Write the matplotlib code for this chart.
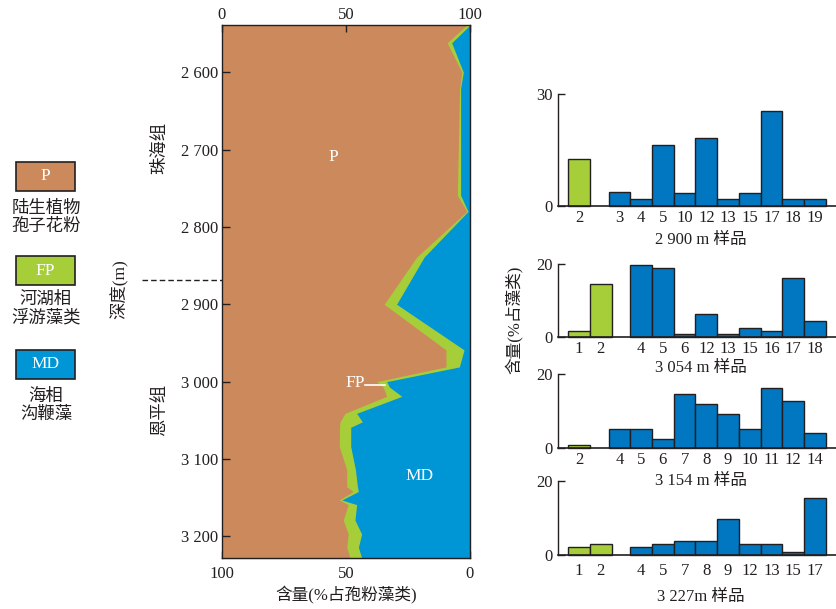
import matplotlib
matplotlib.use('Agg')
import matplotlib.pyplot as plt
from matplotlib.patches import Rectangle
from matplotlib.lines import Line2D
import numpy as np

plt.rcParams['font.family'] = ['Liberation Serif', 'Noto Sans CJK SC']
plt.rcParams['axes.unicode_minus'] = False

W, H = 836, 609
BROWN = '#CC8A5C'
GREEN = '#A6CE39'
BLUE = '#0096D6'
BAR_BLUE = '#0077C0'
INK = '#231F20'

# ---- main profile data (depth in m, percent of sporomorphs+algae) ----
depth = [2539, 2562, 2600, 2621, 2759, 2780, 2839, 2900, 2959, 2981, 3000, 3007,
         3019, 3041, 3052, 3059, 3084, 3114, 3136, 3142, 3153, 3159, 3179, 3197,
         3214, 3228]
p_pct = [98.7, 90.8, 96.7, 95.8, 94.9, 98.7, 78.5, 65.4, 90.3, 90.3, 62.4, 65.0,
         66.4, 49.6, 47.6, 47.4, 47.3, 50.3, 50.3, 52.9, 47.3, 50.9, 48.9, 50.9,
         50.3, 51.6]
fp_pct = [1.3, 1.8, 0.6, 0.4, 1.3, 0.5, 3.0, 5.0, 7.3, 5.4, 4.0, 2.5,
          6.1, 4.7, 9.0, 4.5, 4.6, 3.5, 4.3, 2.1, 1.0, 3.4, 4.7, 5.4,
          4.7, 4.7]
depth_ticks = [2600, 2700, 2800, 2900, 3000, 3100, 3200]
depth_labels = ['2 600', '2 700', '2 800', '2 900', '3 000', '3 100', '3 200']

# ---- histogram data (percent of algae) ----
s2900_fp_types = ['2']
s2900_fp = [12.5]
s2900_md_types = ['3', '4', '5', '10', '12', '13', '15', '17', '18', '19']
s2900_md = [3.6, 1.8, 16.2, 3.4, 18.1, 1.8, 3.5, 25.3, 1.7, 1.7]

s3054_fp_types = ['1', '2']
s3054_fp = [1.8, 14.5]
s3054_md_types = ['4', '5', '6', '12', '13', '15', '16', '17', '18']
s3054_md = [19.7, 19.0, 0.9, 6.4, 0.8, 2.6, 1.8, 16.2, 4.5]

s3154_fp_types = ['2']
s3154_fp = [0.8]
s3154_md_types = ['4', '5', '6', '7', '8', '9', '10', '11', '12', '14']
s3154_md = [5.2, 5.2, 2.6, 14.6, 12.1, 9.4, 5.1, 16.4, 12.9, 4.1]

s3227_fp_types = ['1', '2']
s3227_fp = [2.1, 3.0]
s3227_md_types = ['4', '5', '7', '8', '9', '12', '13', '15', '17']
s3227_md = [2.1, 3.0, 3.9, 3.9, 9.7, 3.0, 3.0, 0.9, 15.4]

sample_titles = ['2 900 m 样品', '3 054 m 样品', '3 154 m 样品', '3 227m 样品']
sample_ymax = [30, 20, 20, 20]

fig = plt.figure(figsize=(W / 100, H / 100), dpi=100)


def fax(x0, y0, x1, y1):
    return fig.add_axes([x0 / W, 1 - y1 / H, (x1 - x0) / W, (y1 - y0) / H])


def ftext(x, y, s, **kw):
    kw.setdefault('color', INK)
    kw.setdefault('ha', 'center')
    kw.setdefault('va', 'center')
    return fig.text(x / W, 1 - y / H, s, **kw)


# ---- main chart ----
ax = fax(222, 25, 470, 558)
d = np.array(depth, float)
p = np.array(p_pct, float)
cum = p + np.array(fp_pct, float)
ax.fill_betweenx(d, 0, 100, color=BROWN, lw=0, zorder=1)
ax.fill_betweenx(d, p, 100, color=GREEN, lw=0, zorder=1.1)
ax.fill_betweenx(d, cum, 100, color=BLUE, lw=0, zorder=1.2)
ax.set_xlim(0, 100)
ax.set_ylim(3228, 2539)
for sp in ax.spines.values():
    sp.set_color(INK)
    sp.set_linewidth(1.0)
ax.set_yticks(depth_ticks)
ax.set_yticklabels(depth_labels)
ax.tick_params(axis='y', direction='in', length=5.5, width=1, pad=3,
               labelsize=12, colors=INK)
ax.set_xticks([0, 50, 100])
ax.set_xticklabels(['0', '50', '100'])
ax.tick_params(axis='x', direction='in', length=5, width=1, top=True, bottom=False,
               labeltop=True, labelbottom=False, pad=1.5, labelsize=12, colors=INK)
sec = ax.secondary_xaxis('bottom', functions=(lambda x: 100 - x, lambda x: 100 - x))
sec.set_xticks([100, 50, 0])
sec.set_xticklabels(['100', '50', '0'])
sec.tick_params(direction='in', length=5, width=1, pad=6, labelsize=12, colors=INK)
sec.spines['bottom'].set_color(INK)
sec.set_xlabel('含量(%占孢粉藻类)', fontsize=12, color=INK, labelpad=3)

ax.text(44.8, 2709, 'P', color='white', fontsize=12.5, ha='center', va='center', zorder=5)
ax.text(79.6, 3122, 'MD', color='white', fontsize=12.5, ha='center', va='center', zorder=5)
ax.text(49.6, 3002, 'FP', color='white', fontsize=12.5, ha='left', va='center', zorder=5)
ax.plot([57.7, 65.7], [3005, 3005], color='white', lw=1.2, zorder=5)

# ---- left annotations ----
ftext(120, 289, '深度(m)', rotation=90, fontsize=12.5)
ftext(160, 148, '珠海组', rotation=90, fontsize=12.5)
ftext(160, 410, '恩平组', rotation=90, fontsize=12.5)
fig.add_artist(Line2D([142 / W, 222 / W], [1 - 280 / H, 1 - 280 / H],
                      transform=fig.transFigure, color=INK, lw=1,
                      dashes=(4, 2.2)))

legend_items = [('P', BROWN, 162, '陆生植物\n孢子花粉', 217.5),
                ('FP', GREEN, 256, '河湖相\n浮游藻类', 309),
                ('MD', BLUE, 350, '海相\n沟鞭藻', 406)]
for code, col, ytop, lab, ylab in legend_items:
    fig.add_artist(Rectangle((16 / W, 1 - (ytop + 29) / H), 59 / W, 29 / H,
                             transform=fig.transFigure, facecolor=col,
                             edgecolor=INK, lw=1.2))
    ftext(45.5, ytop + 14.5, code, color='white', fontsize=12.5)
    ftext(46, ylab, lab, fontsize=12.5, linespacing=1.15)

# ---- histograms ----
panels = [
    (s2900_fp_types, s2900_fp, s2900_md_types, s2900_md, 94, 205.7, 6),
    (s3054_fp_types, s3054_fp, s3054_md_types, s3054_md, 264, 337.3, 5.5),
    (s3154_fp_types, s3154_fp, s3154_md_types, s3154_md, 374.3, 448.3, 5.5),
    (s3227_fp_types, s3227_fp, s3227_md_types, s3227_md, 481, 555, 9),
]
title_y = [240, 368, 481, 597]
for i, (ft, fv, mt, mv, ytop, ybase, pad) in enumerate(panels):
    hax = fax(558, ytop, 836, ybase)
    ng = len(fv)
    gpos = np.arange(ng, dtype=float)
    bpos = ng + 0.86 + np.arange(len(mv), dtype=float)
    hax.bar(gpos, fv, width=1, align='edge', color=GREEN, edgecolor=INK, lw=1.0,
            zorder=2, clip_on=False)
    hax.bar(bpos, mv, width=1, align='edge', color=BAR_BLUE, edgecolor=INK, lw=1.0,
            zorder=2, clip_on=False)
    hax.set_xlim(-0.475, 12.335)
    ymax = sample_ymax[i]
    hax.set_ylim(0, ymax)
    hax.spines['top'].set_visible(False)
    hax.spines['right'].set_visible(False)
    hax.spines['left'].set_color(INK)
    hax.spines['bottom'].set_color(INK)
    hax.spines['left'].set_linewidth(1.0)
    hax.spines['bottom'].set_linewidth(1.2)
    hax.spines['bottom'].set_zorder(3)
    hax.set_facecolor('none')
    hax.set_yticks([0, ymax])
    hax.set_yticklabels(['0', str(ymax)])
    hax.tick_params(axis='y', direction='in', length=5, width=1, pad=4,
                    labelsize=12, colors=INK)
    hax.set_xticks(np.concatenate([gpos, bpos]) + 0.5)
    hax.set_xticklabels(list(ft) + list(mt))
    hax.tick_params(axis='x', length=0, pad=pad - 3, labelsize=12, colors=INK)
    ftext(701, title_y[i], sample_titles[i], fontsize=12)

ftext(515, 320, '含量(%占藻类)', rotation=90, fontsize=12)

fig.savefig('out.png', dpi=100)
